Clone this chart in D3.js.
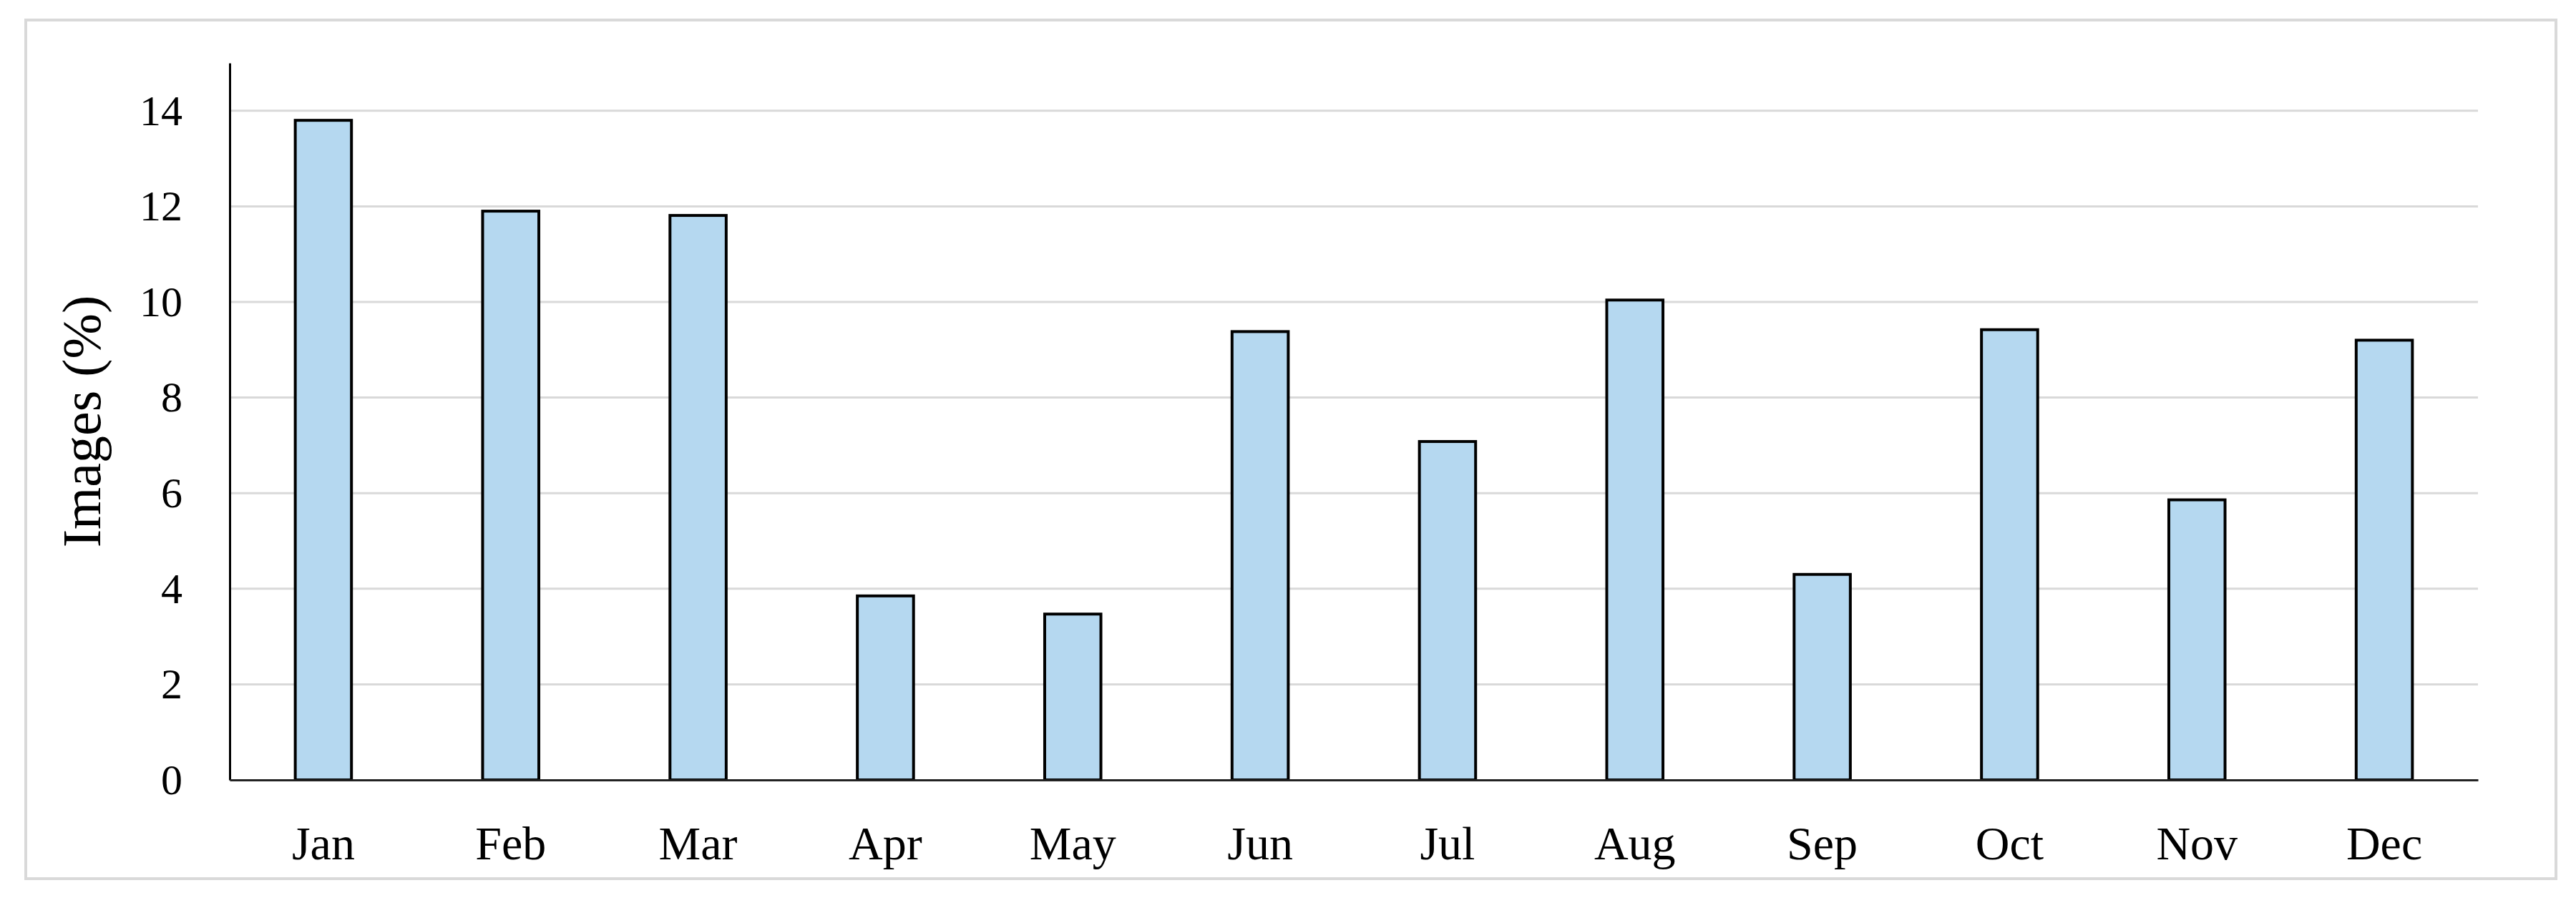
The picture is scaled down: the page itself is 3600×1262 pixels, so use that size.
<!DOCTYPE html>
<html>
<head>
<meta charset="utf-8">
<script src="https://cdn.jsdelivr.net/npm/d3@7"></script>
<style>
  body { margin: 0; background: #fff; }
</style>
</head>
<body>
<div id="chart"></div>
<script>
// Data
const months = ["Jan", "Feb", "Mar", "Apr", "May", "Jun", "Jul", "Aug", "Sep", "Oct", "Nov", "Dec"];
const images = [13.8, 11.9, 11.81, 3.85, 3.47, 9.38, 7.08, 10.04, 4.3, 9.42, 5.86, 9.2];
const yTicks = [0, 2, 4, 6, 8, 10, 12, 14];

const width = 3600;
const height = 1262;
const margin = { top: 88, right: 137, bottom: 172, left: 321 };

const svg = d3.select("#chart")
    .append("svg")
    .attr("width", width)
    .attr("height", height);

// outer frame
svg.append("rect")
    .attr("x", 36)
    .attr("y", 28)
    .attr("width", 3536)
    .attr("height", 1200)
    .attr("fill", "#fff")
    .attr("stroke", "#d9d9d9")
    .attr("stroke-width", 4);

const x = d3.scaleBand()
    .domain(months)
    .range([margin.left, width - margin.right])
    .paddingInner(0.7)
    .paddingOuter(0.35);

const y = d3.scaleLinear()
    .domain([0, 15])
    .range([height - margin.bottom, margin.top]);

// gridlines
svg.append("g")
    .selectAll("line")
    .data(yTicks.slice(1))
    .join("line")
    .attr("x1", margin.left)
    .attr("x2", width - margin.right)
    .attr("y1", d => y(d))
    .attr("y2", d => y(d))
    .attr("stroke", "#d9d9d9")
    .attr("stroke-width", 3);

// bars
svg.append("g")
    .selectAll("rect")
    .data(months)
    .join("rect")
    .attr("x", d => x(d))
    .attr("width", x.bandwidth())
    .attr("y", (d, i) => y(images[i]))
    .attr("height", (d, i) => y(0) - y(images[i]))
    .attr("fill", "#b5d8f0")
    .attr("stroke", "#000")
    .attr("stroke-width", 4);

// y axis
const yAxis = svg.append("g")
    .attr("transform", `translate(${margin.left},0)`)
    .call(d3.axisLeft(y).tickValues(yTicks).tickSize(0).tickPadding(66));
yAxis.select(".domain").attr("stroke", "#000").attr("stroke-width", 3);
yAxis.selectAll("text")
    .attr("font-family", "'Liberation Serif', serif")
    .attr("font-size", 60)
    .attr("fill", "#000");

// x axis
const xAxis = svg.append("g")
    .attr("transform", `translate(0,${y(0)})`)
    .call(d3.axisBottom(x).tickSize(0).tickPadding(64));
xAxis.select(".domain").attr("stroke", "#222").attr("stroke-width", 3);
xAxis.selectAll("text")
    .attr("font-family", "'Liberation Serif', serif")
    .attr("font-size", 66)
    .attr("fill", "#000");

// y axis title
svg.append("text")
    .attr("transform", `translate(140,${(y(0) + y(15)) / 2}) rotate(-90)`)
    .attr("text-anchor", "middle")
    .attr("font-family", "'Liberation Serif', serif")
    .attr("font-size", 76)
    .attr("fill", "#000")
    .text("Images (%)");
</script>
</body>
</html>
